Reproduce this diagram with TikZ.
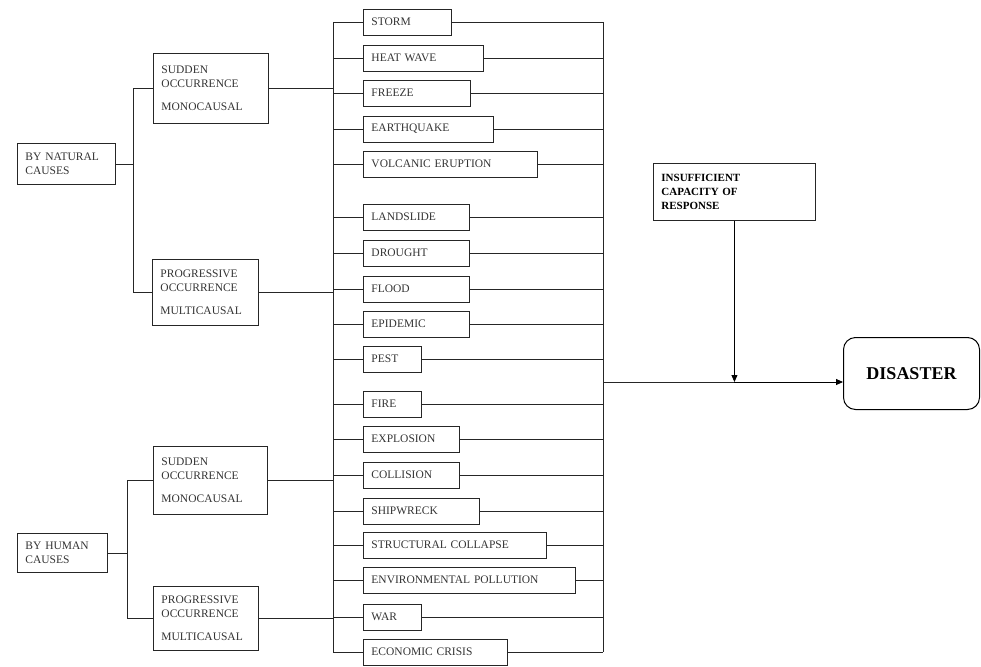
\documentclass[tikz,border=0pt]{standalone}
\usepackage{fontspec}
\setmainfont{Liberation Serif}
\usetikzlibrary{arrows.meta, positioning}
\tikzset{
  causebox/.style={rectangle, draw=black!85, line width=0.9pt,
                   font=\fontsize{11.5}{14}\selectfont, text=black!80,
                   text width=#1, inner xsep=8pt, align=left, anchor=north west},
  occbox/.style={rectangle, draw=black!85, line width=0.9pt,
                 font=\fontsize{11.5}{14}\selectfont, text=black!80,
                 text width=#1, inner xsep=8pt, align=left, anchor=north west},
  hazard/.style={rectangle, draw=black!85, line width=0.9pt,
                 font=\fontsize{11.5}{13}\selectfont, text=black!80,
                 text width=#1, inner xsep=8pt, minimum height=26pt,
                 align=left, anchor=west},
  wire/.style={black!85, line width=0.8pt},
  arr/.style={-{Triangle[length=7pt, width=6pt]}, black, line width=0.8pt},
}

\begin{document}
\begin{tikzpicture}[x=1pt, y=-1pt]
  \useasboundingbox (0,0) rectangle (981,666);
  %% causes
  \node[causebox=82pt, minimum height=41pt] (nat) at (17,143) {BY NATURAL\\CAUSES};
  \node[causebox=74pt, minimum height=39pt] (hum) at (17,533) {BY HUMAN\\CAUSES};
  %% kind of occurrence
  \node[occbox=99pt, minimum height=70pt] (m1) at (153,53)  {SUDDEN\\OCCURRENCE\\[9pt]MONOCAUSAL};
  \node[occbox=90pt, minimum height=66pt] (m2) at (152,259) {PROGRESSIVE\\OCCURRENCE\\[9pt]MULTICAUSAL};
  \node[occbox=98pt, minimum height=68pt] (m3) at (153,446) {SUDDEN\\OCCURRENCE\\[9pt]MONOCAUSAL};
  \node[occbox=89pt, minimum height=64pt] (m4) at (153,586) {PROGRESSIVE\\OCCURRENCE\\[9pt]MULTICAUSAL};
  %% hazards
  \foreach \nm/\txt/\w/\y in {h1/STORM/72/22, h2/HEAT WAVE/104/58, h3/FREEZE/91/93,
      h4/EARTHQUAKE/114/129, h5/VOLCANIC ERUPTION/158/164, h6/LANDSLIDE/90/217,
      h7/DROUGHT/90/253, h8/FLOOD/90/289, h9/EPIDEMIC/90/324, h10/PEST/42/359,
      h11/FIRE/42/404, h12/EXPLOSION/80/439, h13/COLLISION/80/475,
      h14/SHIPWRECK/100/511, h15/STRUCTURAL COLLAPSE/167/545,
      h16/ENVIRONMENTAL POLLUTION/196/580, h17/WAR/42/617, h18/ECONOMIC CRISIS/128/652}
    \node[hazard=\w pt] (\nm) at (363,\y) {\txt};
  %% response and result
  \node[causebox=146pt, minimum height=57pt, font=\fontsize{11}{14}\selectfont\bfseries,
        text=black] (ins) at (653,163) {INSUFFICIENT\\CAPACITY OF\\RESPONSE};
  \node[rectangle, draw=black, line width=1pt, rounded corners=12pt,
        minimum width=136pt, minimum height=72pt, font=\fontsize{18}{20}\selectfont\bfseries,
        anchor=north west] (dis) at (843,337) {DISASTER};
  %% buses
  \coordinate (nb) at (133,0);
  \coordinate (hb) at (127,0);
  \coordinate (lb) at (333,0);
  \coordinate (rb) at (603,0);
  \coordinate (jn) at (ins.south |- 0,382);
  \draw[wire] (nat.east) -- (nb |- nat.east);
  \draw[wire] (m1.west) -| (nb |- m2.west) -- (m2.west);
  \draw[wire] (hum.east) -- (hb |- hum.east);
  \draw[wire] (m3.west) -| (hb |- m4.west) -- (m4.west);
  \foreach \m in {m1,m2,m3,m4}
    \draw[wire] (\m.east) -- (lb |- \m.east);
  \draw[wire] (lb |- h1.west) -- (lb |- h18.west);
  \draw[wire] (rb |- h1.east) -- (rb |- h18.east);
  \foreach \h in {h1,h2,h3,h4,h5,h6,h7,h8,h9,h10,h11,h12,h13,h14,h15,h16,h17,h18}{
    \draw[wire] (lb |- \h.west) -- (\h.west);
    \draw[wire] (\h.east) -- (rb |- \h.east);
  }
  \draw[wire] (rb |- jn) -- (jn);
  \draw[arr] (jn) -- (dis.west |- jn);
  \draw[arr] (ins.south) -- (jn);
\end{tikzpicture}
\end{document}
